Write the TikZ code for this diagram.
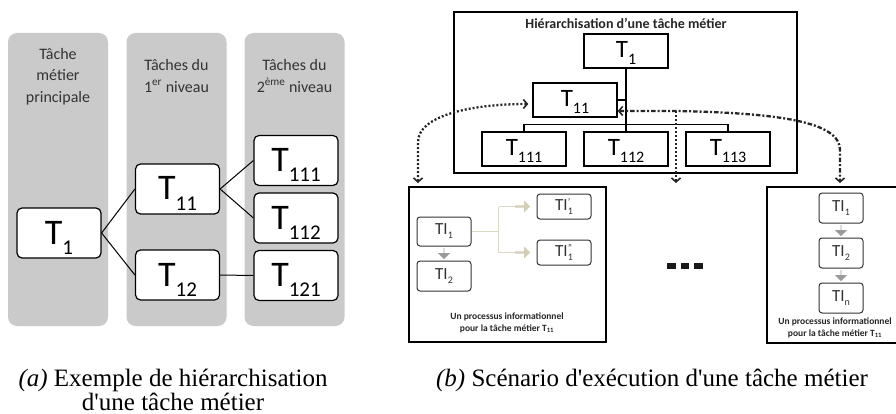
\documentclass[tikz,border=0pt]{standalone}
\usepackage{fontspec}
\setmainfont{Liberation Serif}
\setsansfont{Carlito}
\usetikzlibrary{arrows.meta,shapes.arrows,calc}
\definecolor{colgray}{HTML}{CACACA}
\definecolor{beigel}{HTML}{DCD8C6}
\definecolor{beigea}{HTML}{D3CEB6}
\definecolor{garr}{HTML}{9A9A9A}
\newcommand\bigT[1]{{\fontsize{36}{36}\selectfont T}\raisebox{-10pt}{\fontsize{21}{21}\selectfont #1}}
\newcommand\midT[1]{{\fontsize{25}{25}\selectfont T}\raisebox{-7pt}{\fontsize{16}{16}\selectfont #1}}
\newcommand\TIlab[1]{{\fontsize{17}{17}\selectfont TI}\raisebox{-4pt}{\fontsize{10}{10}\selectfont #1}}
\newcommand\TIpr[2]{{\fontsize{17}{17}\selectfont TI}\makebox[0pt][l]{\raisebox{5pt}{\fontsize{10}{10}\selectfont #1}}\raisebox{-4pt}{\fontsize{10}{10}\selectfont #2}}
\begin{document}
\begin{tikzpicture}[x=1pt,y=-1pt,
  colbox/.style={fill=colgray, rounded corners=9pt, minimum width=100pt, minimum height=293pt, inner sep=0pt},
  hdr/.style={font=\sffamily\fontsize{16}{21.5}\selectfont, text=black!80, align=center},
  lbox/.style={draw, fill=white, rounded corners=5pt, line width=1.2pt, minimum width=84pt, minimum height=50pt, inner sep=0pt, font=\sffamily, text height=32pt, text depth=10pt},
  rbox/.style={draw, fill=white, line width=1.3pt, minimum width=84pt, minimum height=34pt, inner sep=0pt, font=\sffamily, text height=22pt, text depth=8pt},
  frm/.style={draw, line width=1.5pt, inner sep=0pt},
  tibox/.style={draw=black!80, fill=white, rounded corners=3pt, line width=1pt, minimum width=54pt, inner sep=0pt, font=\sffamily, text=black!80},
  tiboxr/.style={tibox, minimum width=44pt, minimum height=30pt},
  tree/.style={line width=1.2pt},
  link/.style={line width=1pt},
  garrow/.style={single arrow, shape border rotate=270, fill=garr, draw=none, minimum width=12pt, single arrow head extend=2.5pt, minimum height=11pt, inner sep=0pt},
  barrow/.style={single arrow, fill=beigea, draw=none, minimum width=12pt, single arrow head extend=2.5pt, minimum height=15pt, inner sep=0pt},
  bline/.style={draw=beigel, line width=1.3pt},
  dotl/.style={line width=2.3pt, dash pattern=on 2pt off 2pt, draw=black!85},
  ddl/.style={line width=2.3pt, dash pattern=on 4.5pt off 2pt on 2pt off 2pt, draw=black!85},
  tips/.style={-{Straight Barb[length=4pt,width=9pt,line width=1.6pt]}},
  bothtips/.style={{Straight Barb[length=4pt,width=9pt,line width=1.6pt]}-{Straight Barb[length=4pt,width=9pt,line width=1.6pt]}},
  smtxt/.style={font=\sffamily\bfseries\fontsize{9.5}{12}\selectfont, text=black!85, align=center, inner sep=0pt},
  captxt/.style={font=\fontsize{25}{28}\selectfont, anchor=base, inner sep=0pt}
]
\useasboundingbox (0,0) rectangle (896,414);
\fill[white] (0,0) rectangle (896,414);

% ---------- (a) left panel ----------
\node[colbox] (c1) at (58,179.5) {};
\node[colbox] (c2) at (176.5,179.5) {};
\node[colbox] (c3) at (294.5,179.5) {};
\node[hdr] (h1) at (58,76.5) {Tâche\\métier\\principale};
\node[hdr] (h2) at (176.5,76) {Tâches du\\1\textsuperscript{er} niveau};
\node[hdr] (h3) at (294.5,76) {Tâches du\\2\textsuperscript{ème} niveau};

\node[lbox] (a1) at (59,233) {\bigT{1}};
\node[lbox] (a11) at (177.5,189) {\bigT{11}};
\node[lbox] (a12) at (177.5,275) {\bigT{12}};
\node[lbox] (a111) at (296,160.5) {\bigT{111}};
\node[lbox] (a112) at (296,218) {\bigT{112}};
\node[lbox] (a121) at (296,275.5) {\bigT{121}};
\draw[link] (a1.east) -- (a11.west);
\draw[link] (a1.east) -- (a12.west);
\draw[link] (a11.east) -- (a111.west);
\draw[link] (a11.east) -- (a112.west);
\draw[link] (a12.east) -- (a121.west);

% ---------- (b) right panel ----------
\node[frm, minimum width=343pt, minimum height=161pt] (outer) at (625.5,92.5) {};
\node[font=\sffamily\bfseries\fontsize{14}{14}\selectfont, text=black!85] (ttl) at (626,23) {Hiérarchisation d’une tâche métier};
\node[rbox] (b1) at (626,51) {\midT{1}};
\node[rbox] (b11) at (575,100) {\midT{11}};
\node[rbox] (b111) at (524,149) {\midT{111}};
\node[rbox] (b112) at (626,149) {\midT{112}};
\node[rbox] (b113) at (728,149) {\midT{113}};
\draw[tree] (b1.south) -- (b112.north);
\draw[tree] (b111.north) -- ++(0,-7) -| (b113.north);
\draw[tree] (b11.east) -- (b11.east -| b1.south);

% lower-left process box
\node[frm, minimum width=197pt, minimum height=155pt] (pl) at (507.5,264.5) {};
\node[tibox, minimum height=29pt] (ti1) at (444,231.5) {\TIlab{1}};
\node[tibox, minimum height=30pt] (ti2) at (444,276) {\TIlab{2}};
\node[tibox, minimum height=25pt] (tip) at (564,206.5) {\TIpr{'}{1}};
\node[tibox, minimum height=25pt] (tipp) at (564,252.5) {\TIpr{''}{1}};
\path (ti1.south) -- (ti2.north) node[midway, garrow] (g1) {};
\draw[bline] (ti1.east) -- ++(27,0) coordinate (bj);
\draw[bline] (bj |- tip.west) -- (bj |- tipp.west);
\draw[bline] (bj |- tip.west) -- ++(16,0) node[barrow, anchor=west] (ba1) {};
\draw[bline] (bj |- tipp.west) -- ++(16,0) node[barrow, anchor=west] (ba2) {};
\node[smtxt] (tl) at (507,323) {Un processus informationnel\\pour la tâche métier T\textsubscript{11}};

% ellipsis
\fill[black!90] (667,262.5) rectangle (675.5,268.5);
\fill[black!90] (680.5,262.5) rectangle (689,268.5);
\fill[black!90] (694,262.5) rectangle (702.5,268.5);

% lower-right process box
\node[frm, minimum width=132pt, minimum height=156pt] (pr) at (833,265) {};
\node[tiboxr] (tr1) at (841,208) {\TIlab{1}};
\node[tiboxr] (tr2) at (841,253) {\TIlab{2}};
\node[tiboxr] (trn) at (841,298) {\TIlab{n}};
\path (tr1.south) -- (tr2.north) node[midway, garrow] (g2) {};
\path (tr2.south) -- (trn.north) node[midway, garrow] (g3) {};
\node[smtxt] (tr) at (835,328) {Un processus informationnel\\pour la tâche métier T\textsubscript{11}};

% dotted connectors
\coordinate (dl) at (418,183);
\coordinate (jm) at (676,111);
\coordinate (dm) at (676,183);
\coordinate (dr) at (840,183);
\draw[dotl, bothtips] (dl) -- (418,142) .. controls (418,116) and (470,104) .. ([shift={(-4,4)}]b11.west);
\draw[ddl, bothtips] ([yshift=-11pt]b11.east) -- (jm) .. controls (780,113) and (840,122) .. (840,150) -- (dr);
\draw[dotl, tips] (jm) -- (dm);

% captions
\node[captxt] (capa1) at (173,386) {\textit{(a)} Exemple de hiérarchisation};
\node[captxt] (capa2) at (173,410) {d\textquotesingle une tâche métier};
\node[captxt] (capb) at (652,386) {\textit{(b)} Scénario d\textquotesingle exécution d\textquotesingle une tâche métier};
\end{tikzpicture}
\end{document}
